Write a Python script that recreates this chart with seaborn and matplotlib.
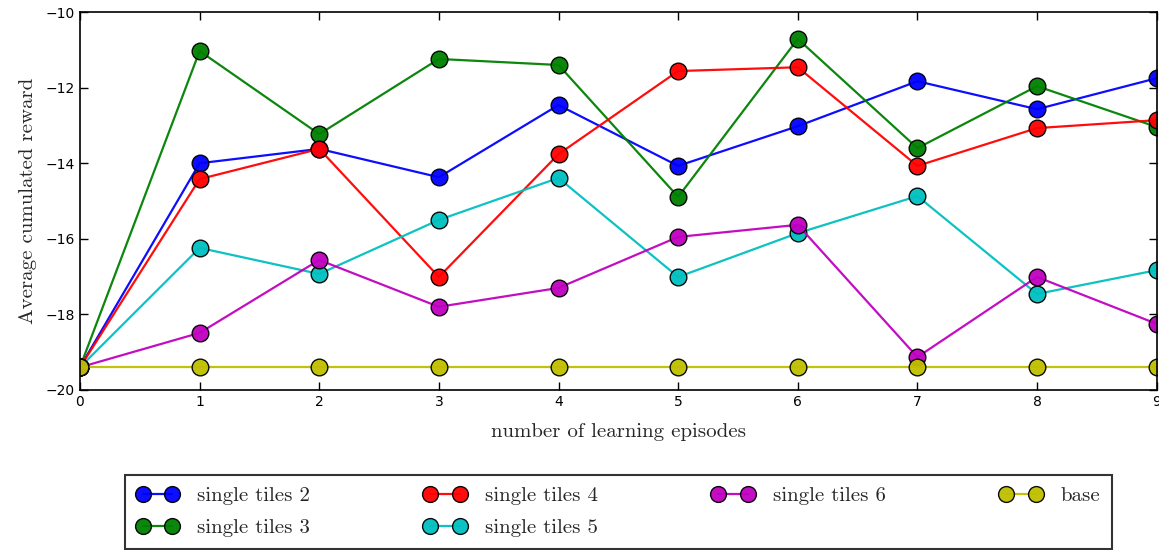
import matplotlib
matplotlib.use("Agg")
import matplotlib.pyplot as plt
import numpy as np
import pandas as pd
import seaborn as sns

# episodes on the x axis
episodes = [0, 1, 2, 3, 4, 5, 6, 7, 8, 9]

# average cumulated reward per configuration
tiles2 = [-19.4, -14.0, -13.62, -14.37, -12.46, -14.07, -13.02, -11.83, -12.57, -11.75]
tiles3 = [-19.4, -11.03, -13.23, -11.24, -11.40, -14.89, -10.71, -13.60, -11.96, -13.04]
tiles4 = [-19.4, -14.42, -13.62, -17.01, -13.76, -11.56, -11.46, -14.07, -13.07, -12.86]
tiles5 = [-19.4, -16.24, -16.93, -15.50, -14.39, -17.01, -15.85, -14.87, -17.46, -16.83]
tiles6 = [-19.4, -18.49, -16.56, -17.80, -17.30, -15.95, -15.63, -19.13, -17.01, -18.25]
base = [-19.4, -19.4, -19.4, -19.4, -19.4, -19.4, -19.4, -19.4, -19.4, -19.4]

names = ["single tiles 2", "single tiles 3", "single tiles 4",
         "single tiles 5", "single tiles 6", "base"]
series = [tiles2, tiles3, tiles4, tiles5, tiles6, base]
colors = ["#0000ff", "#008000", "#ff0000", "#00bfbf", "#bf00bf", "#bfbf00"]

df = pd.concat(
    [pd.DataFrame({"episode": episodes, "reward": vals, "config": name})
     for name, vals in zip(names, series)],
    ignore_index=True,
)

sns.set_style("ticks", {"xtick.direction": "in", "ytick.direction": "in"})
plt.rcParams["font.family"] = ["DejaVu Sans"]

fig = plt.figure(figsize=(11.59, 5.5), dpi=100)
ax = fig.add_axes([0.069, 0.291, 0.929, 0.687])

sns.lineplot(data=df, x="episode", y="reward", hue="config",
             hue_order=names, palette=colors, marker="o", markersize=12,
             markeredgecolor="black", markeredgewidth=1, linewidth=1.6,
             alpha=0.95, errorbar=None, ax=ax, legend=True)

ax.set_xlim(0, 9)
ax.set_ylim(-20, -10)
ax.set_xticks(range(0, 10))
ax.set_yticks(np.arange(-20, -9, 2))
ax.set_yticklabels(["\u2212" + str(abs(v)) for v in range(-20, -9, 2)])
ax.tick_params(axis="both", labelsize=10, length=6, width=1,
               top=True, right=True, direction="in", colors="black")
for s in ax.spines.values():
    s.set_linewidth(1.2)
    s.set_color("black")

serif = {"family": "cmr10", "size": 15}
ax.set_xlabel("number of learning episodes", fontdict=serif, labelpad=10)
ax.set_ylabel("Average cumulated reward", fontdict=serif, labelpad=6)

handles, labels = ax.get_legend_handles_labels()
ax.legend(handles, labels, ncol=4, numpoints=2, loc="upper center",
          bbox_to_anchor=(0.5, -0.225), borderaxespad=0, frameon=True,
          fancybox=False, edgecolor="black",
          prop={"family": "cmr10", "size": 15},
          columnspacing=5.5, handlelength=2.0, handletextpad=0.9,
          borderpad=0.55, labelspacing=0.65, markerscale=0.95)
ax.get_legend().get_frame().set_linewidth(1.5)

fig.savefig("out.png", dpi=100)
